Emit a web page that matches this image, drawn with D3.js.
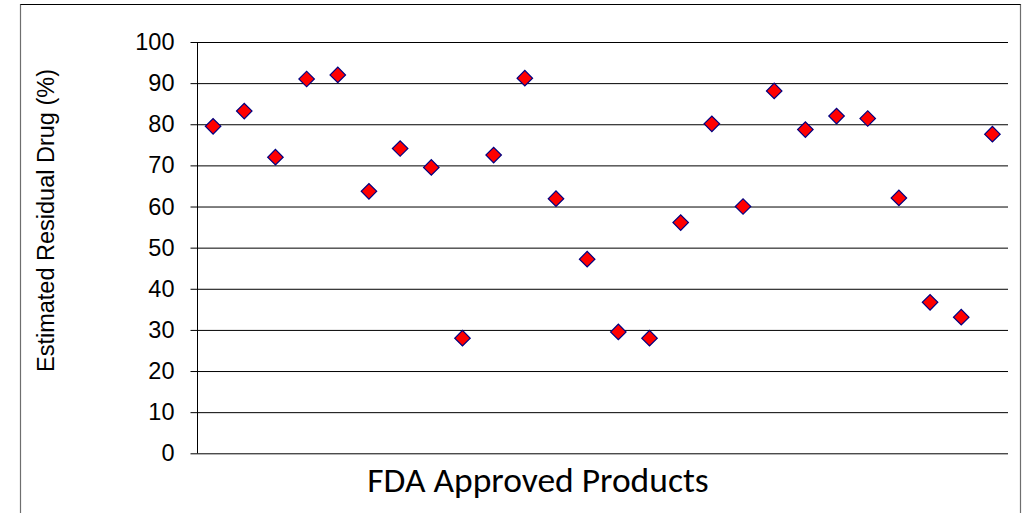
<!DOCTYPE html>
<html>
<head>
<meta charset="utf-8">
<script src="https://cdn.jsdelivr.net/npm/d3@7"></script>
<style>
  body { margin: 0; background: #fff; }
  svg { display: block; }
</style>
</head>
<body>
<script>
const width = 1030
    , height = 513;

// one value per FDA approved product, in the order shown
const products = d3.range(1, 27);
const residual = [79.5, 83.2, 72.0, 91.0, 92.0, 63.7, 74.1, 69.5, 28.0, 72.5,
                  91.2, 61.9, 47.2, 29.5, 28.0, 56.1, 80.1, 60.0, 88.1, 78.7,
                  82.0, 81.4, 62.1, 36.7, 33.1, 77.6];
const yTicks = [0, 10, 20, 30, 40, 50, 60, 70, 80, 90, 100];

const data = products.map((p, i) => ({ product: p, value: residual[i] }));

const plot = { left: 197.5, right: 1008, top: 42, bottom: 453.3 };

var x = d3.scaleBand()
    .range([plot.left, plot.right])
    .domain(products);

var y = d3.scaleLinear()
    .domain([0, 100])
    .range([plot.bottom, plot.top]);

var svg = d3.select("body").append("svg")
    .attr("width", width)
    .attr("height", height);

// chart border (bottom edge falls outside the picture)
svg.append("path")
    .attr("d", "M20.5,520 V4.5 H1020.5 V520")
    .attr("fill", "none")
    .attr("stroke", "#6e6e6e")
    .attr("stroke-width", 1.2);
svg.append("line")
    .attr("x1", 20.5).attr("x2", 1020.5)
    .attr("y1", 4.5).attr("y2", 4.5)
    .attr("stroke", "#000");

// gridlines with the small outside tick on the left
var yAxis = d3.axisLeft()
    .scale(y)
    .tickValues(yTicks)
    .tickSize(-(plot.right - plot.left))
    .tickFormat(d3.format("d"));

var gy = svg.append("g")
    .attr("class", "y axis")
    .attr("transform", "translate(" + plot.left + ",0)")
    .call(yAxis);
gy.select(".domain").remove();
gy.selectAll(".tick line")
    .attr("x1", -7)
    .attr("stroke", "#000");
gy.selectAll(".tick text")
    .attr("x", -23)
    .style("font-family", "Arial, 'Liberation Sans', sans-serif")
    .style("font-size", "23.5px")
    .attr("fill", "#000");

// vertical axis line
svg.append("line")
    .attr("x1", plot.left).attr("x2", plot.left)
    .attr("y1", y(100)).attr("y2", y(0))
    .attr("stroke", "#000");

svg.append("text")
    .attr("transform", "translate(53.5," + 220.5 + ") rotate(-90)")
    .style("text-anchor", "middle")
    .style("font-family", "Arial, 'Liberation Sans', sans-serif")
    .style("font-size", "23.5px")
    .text("Estimated Residual Drug (%)");

svg.append("text")
    .attr("x", 538)
    .attr("y", 491.5)
    .style("text-anchor", "middle")
    .style("font-family", "Calibri, Carlito, 'Open Sans', sans-serif")
    .style("font-size", "35.5px")
    .text("FDA Approved Products");

var diamond = d3.symbol(d3.symbolSquare, 120);

svg.selectAll(".point")
    .data(data)
    .enter()
    .append("path")
    .attr("class", "point")
    .attr("d", diamond)
    .attr("transform", d => "translate(" + (x(d.product) + x.bandwidth() / 2) + "," + y(d.value) + ") rotate(45)")
    .attr("fill", "#ff0000")
    .attr("stroke", "#000080")
    .attr("stroke-width", 1.2);
</script>
</body>
</html>
